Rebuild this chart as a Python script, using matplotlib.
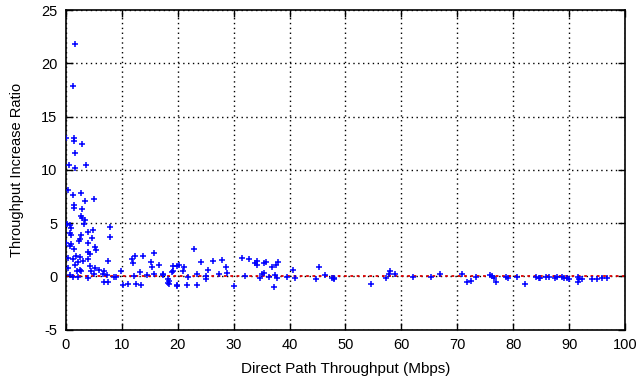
import matplotlib
matplotlib.use("Agg")
import matplotlib.pyplot as plt

plt.rcParams['font.family'] = ['Liberation Sans', 'DejaVu Sans']
plt.rcParams['axes.unicode_minus'] = False

# direct path throughput (Mbps) and the ratio of throughput increase
direct_mbps = [
    1.7, 1.3, 0.0, 1.4, 1.4, 2.9, 1.7, 0.6, 1.7, 3.6,
    0.5, 1.3, 2.8, 3.4, 5.0, 1.5, 1.5, 2.9, 2.7, 2.9, 3.5,
    0.3, 0.8, 1.0, 3.3, 8.0, 4.9, 4.0, 0.7, 0.9, 2.8, 8.0,
    4.7, 2.5, 2.4, 0.1, 3.9, 1.0, 0.7, 5.3, 1.4, 5.5, 4.0,
    4.3, 1.9, 2.5, 0.4, 1.3, 3.1, 3.9, 7.5, 2.2, 1.6, 0.5,
    2.5, 2.8, 2.1, 4.4, 5.2, 4.6, 6.0, 6.8, 6.6, 7.4, 0.7,
    1.3, 2.2, 4.0, 5.0, 7.5, 6.8, 8.6, 9.0, 9.9,
    10.2, 11.1, 12.6, 13.5, 12.3, 13.8, 15.7, 11.9, 12.0,
    15.2, 16.7, 15.4, 13.3, 12.2, 14.6, 15.7, 17.3, 18.2, 18.3, 19.1,
    17.3, 18.4, 18.4, 19.1, 19.8, 20.3, 19.0, 19.8, 19.8,
    21.2, 21.0, 21.6, 21.9, 23.0, 23.5, 23.5, 24.1, 25.0, 25.0,
    25.5, 26.3, 27.4, 27.9, 28.6, 28.8, 30.1, 31.5, 32.7, 32.0,
    33.9, 34.1, 34.2, 35.1, 34.8, 35.4, 35.4, 35.8, 36.3,
    36.9, 37.5, 38.0, 37.4, 37.8, 37.2, 39.6, 40.7, 40.9,
    44.7, 45.3, 46.3, 47.5, 47.9, 48.0,
    54.6, 57.2, 57.7, 58.0, 58.8, 62.1, 65.2, 66.8, 70.8, 71.8, 72.5,
    73.4, 75.9, 76.2, 76.5, 76.9, 78.6, 79.0, 80.7, 82.1,
    84.0, 84.5, 84.8, 85.8, 86.4, 87.4, 87.8, 88.7, 89.0, 89.6, 90.0,
    91.5, 91.8, 91.6, 92.3, 94.0, 95.0, 95.9, 96.7,
]
increase_ratio = [
    21.8, 17.9, 13.0, 13.0, 12.7, 12.4, 11.6, 10.4, 10.2, 10.4,
    8.1, 7.6, 7.8, 7.1, 7.3, 6.7, 6.4, 6.3, 5.7, 5.5, 5.3,
    4.9, 4.8, 4.5, 4.9, 4.6, 4.3, 4.2, 4.1, 3.9, 3.9, 3.7,
    3.6, 3.5, 3.3, 3.1, 3.1, 3.0, 2.8, 2.7, 2.6, 2.5, 2.3,
    2.1, 1.9, 1.8, 1.7, 1.6, 1.4, 1.6, 1.4, 1.3, 1.1, 0.8,
    0.6, 0.5, 0.5, 1.0, 0.8, 0.5, 0.6, 0.5, 0.2, 0.1, 0.1,
    -0.1, -0.1, -0.2, 0.2, -0.5, -0.5, -0.1, -0.1, 0.5,
    -0.8, -0.7, -0.7, -0.8, 1.9, 1.9, 2.2, 1.6, 1.2,
    1.3, 1.1, 0.9, 0.4, 0.0, 0.1, 0.2, 0.1, -0.3, -0.6, 0.5,
    0.2, -0.4, -0.7, 1.0, 1.0, 1.1, 0.4, -0.8, -0.9,
    0.9, 0.5, -0.8, -0.1, 2.6, 0.2, -0.8, 1.3, -0.3, 0.0,
    0.6, 1.4, 0.2, 1.5, 0.9, 0.3, -0.9, 1.7, 1.6, 0.0,
    1.2, 1.4, 1.1, 0.2, -0.2, 0.3, 1.2, 1.3, -0.1,
    0.9, 1.1, 1.3, 0.1, -0.2, -1.0, -0.1, 0.6, -0.2,
    -0.3, 0.9, 0.1, -0.2, -0.3, -0.2,
    -0.7, -0.2, 0.2, 0.5, 0.2, -0.1, -0.1, 0.2, 0.2, -0.5, -0.4,
    -0.1, 0.1, 0.0, -0.2, -0.5, -0.1, -0.2, -0.1, -0.7,
    -0.1, -0.2, -0.2, -0.1, -0.1, -0.2, -0.1, -0.1, -0.2, -0.2, -0.3,
    -0.1, -0.3, -0.5, -0.3, -0.3, -0.3, -0.2, -0.2,
]

x_ticks = list(range(0, 101, 10))
y_ticks = list(range(-5, 26, 5))

fig = plt.figure(figsize=(6.42, 3.82), dpi=100)
ax = fig.add_axes([65.7 / 642, 1 - 329.5 / 382, (625.3 - 65.7) / 642, (329.5 - 10) / 382])

ax.axhline(0, color='#dd0000', linestyle=(0, (1.5, 2.0)), linewidth=1.3, zorder=2)
ax.plot(direct_mbps, increase_ratio, linestyle='none', marker='+',
        markersize=5, markeredgewidth=1.1, color='#0000ff', zorder=3)

ax.set_xlim(0, 100)
ax.set_ylim(-5, 25)
ax.set_xticks(x_ticks)
ax.set_yticks(y_ticks)
ax.grid(True, color='black', linestyle=(0, (1, 2.5)), linewidth=1.0)
ax.tick_params(direction='in', length=5, width=1, top=True, right=True,
               labelsize=10.5, pad=6, colors='black')
for s in ax.spines.values():
    s.set_linewidth(1.2)

ax.set_xlabel('Direct Path Throughput (Mbps)', fontsize=11, labelpad=7)
ax.set_ylabel('Throughput Increase Ratio', fontsize=10.5, labelpad=12)

fig.savefig('out.png', dpi=100)
